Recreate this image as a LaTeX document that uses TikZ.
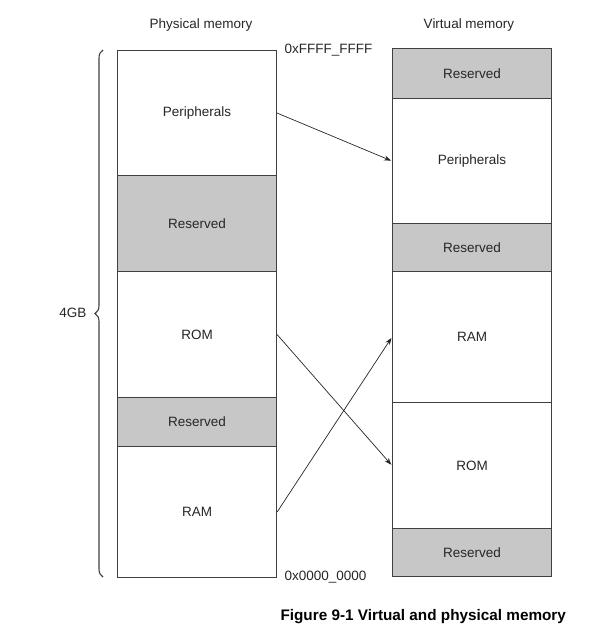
\documentclass[tikz,border=0pt]{standalone}
\usepackage{fontspec}
\setmainfont{Liberation Sans}
\usetikzlibrary{arrows.meta,decorations.pathreplacing}
\begin{document}
\begin{tikzpicture}[x=1pt,y=-1pt,
  txt/.style={font=\fontsize{13.5}{16}\selectfont, text=black!85},
  blk/.style={draw=black!75, line width=1.1pt, minimum width=159pt, anchor=north west, inner sep=0pt, txt},
  res/.style={blk, fill=black!22},
  map/.style={draw=black!85, line width=0.7pt, -{Stealth[length=7pt,width=5pt]}, shorten >=1pt}
]
\useasboundingbox (0,0) rectangle (592,638);
% physical memory
\node[blk, minimum height=125pt] (p1) at (117,50) {Peripherals};
\node[res, minimum height=96pt] (p2) at (117,175) {Reserved};
\node[blk, minimum height=126pt] (p3) at (117,271) {ROM};
\node[res, minimum height=49pt] (p4) at (117,397) {Reserved};
\node[blk, minimum height=131pt] (p5) at (117,446) {RAM};
% virtual memory
\node[res, minimum height=50pt] (v1) at (392,48) {Reserved};
\node[blk, minimum height=125pt] (v2) at (392,98) {Peripherals};
\node[res, minimum height=48pt] (v3) at (392,223) {Reserved};
\node[blk, minimum height=131pt] (v4) at (392,271) {RAM};
\node[blk, minimum height=126pt] (v5) at (392,402) {ROM};
\node[res, minimum height=48pt] (v6) at (392,528) {Reserved};
% titles
\node[txt] (tp) at (201,25) {Physical memory};
\node[txt] (tv) at (469,25) {Virtual memory};
\node[txt, anchor=west] (hi) at (281,50) {0xFFFF\_FFFF};
\node[txt, anchor=west] (lo) at (281,577) {0x0000\_0000};
% brace
\coordinate (bb) at (103,577);
\coordinate (bt) at (103,50);
\draw[draw=black!75, line width=1.1pt, decorate, decoration={brace, amplitude=8pt}] (bb) -- (bt);
\coordinate (bm) at (90,313);
\node[txt, anchor=east] (gb) at (bm) {4GB};
% mappings
\draw[map] (p1.east) -- (v2.west);
\draw[map] (p3.east) -- (v5.west);
\draw[map] (p5.east) -- (v4.west);
% caption
\node[anchor=west, font=\bfseries\fontsize{15.3}{18}\selectfont] (cap) at (277,617) {Figure 9-1 Virtual and physical memory};
\end{tikzpicture}
\end{document}
